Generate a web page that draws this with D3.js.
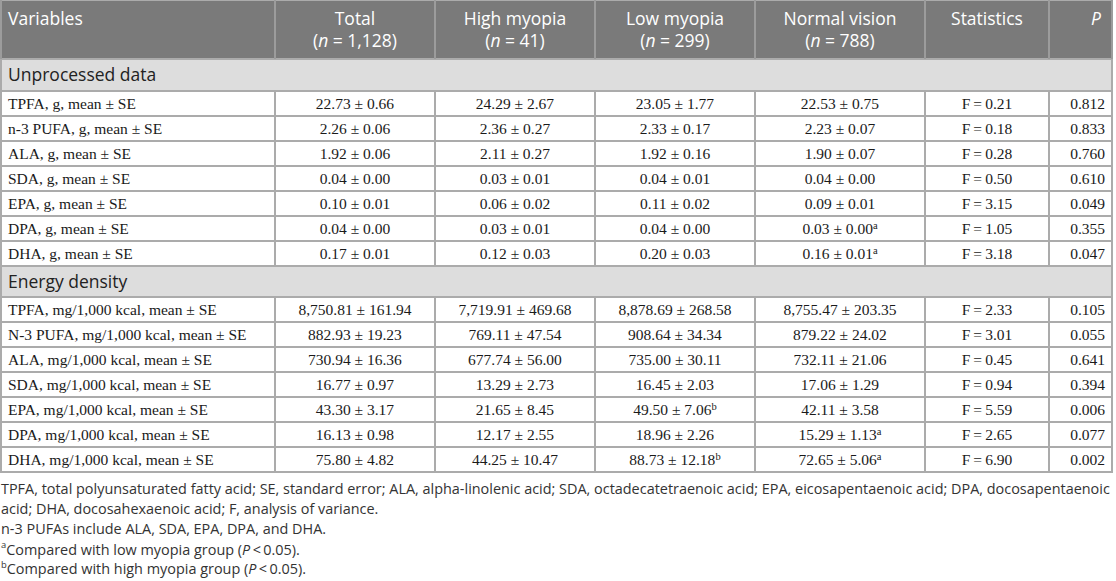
<!DOCTYPE html>
<html>
<head>
<meta charset="utf-8">
<script src="https://cdn.jsdelivr.net/npm/d3@7"></script>
<style>
  body { margin: 0; background: #fff; }
  svg { display: block; }
</style>
</head>
<body>
<div id="tbl"></div>
<script>
// column headers and group sizes
var headers = ["Variables", "Total", "High myopia", "Low myopia", "Normal vision", "Statistics", "P"];
var groupN = ["1,128", "41", "299", "788"];
var sectionNames = ["Unprocessed data", "Energy density"];

// unprocessed data, [mean, SE]
var rawVars = ["TPFA, g, mean ± SE", "n-3 PUFA, g, mean ± SE", "ALA, g, mean ± SE", "SDA, g, mean ± SE",
               "EPA, g, mean ± SE", "DPA, g, mean ± SE", "DHA, g, mean ± SE"];
var rawTotal  = [[22.73, 0.66], [2.26, 0.06], [1.92, 0.06], [0.04, 0.00], [0.10, 0.01], [0.04, 0.00], [0.17, 0.01]];
var rawHigh   = [[24.29, 2.67], [2.36, 0.27], [2.11, 0.27], [0.03, 0.01], [0.06, 0.02], [0.03, 0.01], [0.12, 0.03]];
var rawLow    = [[23.05, 1.77], [2.33, 0.17], [1.92, 0.16], [0.04, 0.01], [0.11, 0.02], [0.04, 0.00], [0.20, 0.03]];
var rawNormal = [[22.53, 0.75], [2.23, 0.07], [1.90, 0.07], [0.04, 0.00], [0.09, 0.01], [0.03, 0.00], [0.16, 0.01]];
var rawLowMark    = ["", "", "", "", "", "", ""];
var rawNormalMark = ["", "", "", "", "", "a", "a"];
var rawF = [0.21, 0.18, 0.28, 0.50, 3.15, 1.05, 3.18];
var rawP = [0.812, 0.833, 0.760, 0.610, 0.049, 0.355, 0.047];

// energy density, [mean, SE]
var enVars = ["TPFA, mg/1,000 kcal, mean ± SE", "N-3 PUFA, mg/1,000 kcal, mean ± SE", "ALA, mg/1,000 kcal, mean ± SE",
              "SDA, mg/1,000 kcal, mean ± SE", "EPA, mg/1,000 kcal, mean ± SE", "DPA, mg/1,000 kcal, mean ± SE",
              "DHA, mg/1,000 kcal, mean ± SE"];
var enTotal  = [[8750.81, 161.94], [882.93, 19.23], [730.94, 16.36], [16.77, 0.97], [43.30, 3.17], [16.13, 0.98], [75.80, 4.82]];
var enHigh   = [[7719.91, 469.68], [769.11, 47.54], [677.74, 56.00], [13.29, 2.73], [21.65, 8.45], [12.17, 2.55], [44.25, 10.47]];
var enLow    = [[8878.69, 268.58], [908.64, 34.34], [735.00, 30.11], [16.45, 2.03], [49.50, 7.06], [18.96, 2.26], [88.73, 12.18]];
var enNormal = [[8755.47, 203.35], [879.22, 24.02], [732.11, 21.06], [17.06, 1.29], [42.11, 3.58], [15.29, 1.13], [72.65, 5.06]];
var enLowMark    = ["", "", "", "", "b", "", "b"];
var enNormalMark = ["", "", "", "", "", "a", "a"];
var enF = [2.33, 3.01, 0.45, 0.94, 5.59, 2.65, 6.90];
var enP = [0.105, 0.055, 0.641, 0.394, 0.006, 0.077, 0.002];

var notes = [
  "TPFA, total polyunsaturated fatty acid; SE, standard error; ALA, alpha-linolenic acid; SDA, octadecatetraenoic acid; EPA, eicosapentaenoic acid; DPA, docosapentaenoic",
  "acid; DHA, docosahexaenoic acid; F, analysis of variance.",
  "n-3 PUFAs include ALA, SDA, EPA, DPA, and DHA."
];

var W = 1116, H = 581;
var colW = [275, 160, 160, 160, 170, 124, 64];
var tableW = d3.sum(colW);
var edges = Array.from(d3.cumsum([0].concat(colW)));
var colX = d3.scaleOrdinal().domain(headers).range(edges.slice(0, 7));
var colR = d3.scaleOrdinal().domain(headers).range(edges.slice(1));

var fmt = d3.format(",.2f"), fmtP = d3.format(".3f");
var sans = "'Open Sans', 'Noto Sans', sans-serif";
var serif = "'Liberation Serif', 'Times New Roman', serif";
var lineCol = "#ababab";

// build row list
var rows = [{type: "head", h: 59}];
function addSection(name, vars, t, hi, lo, no, loM, noM, F, P, h) {
  rows.push({type: "section", name: name, h: h});
  vars.forEach(function(v, i) {
    rows.push({type: "data", h: 25, cells: [
      {t: v},
      {t: fmt(t[i][0]) + " ± " + fmt(t[i][1]), m: ""},
      {t: fmt(hi[i][0]) + " ± " + fmt(hi[i][1]), m: ""},
      {t: fmt(lo[i][0]) + " ± " + fmt(lo[i][1]), m: loM[i]},
      {t: fmt(no[i][0]) + " ± " + fmt(no[i][1]), m: noM[i]},
      {t: "F\u2009=\u2009" + fmt(F[i])},
      {t: fmtP(P[i])}
    ]});
  });
}
addSection(sectionNames[0], rawVars, rawTotal, rawHigh, rawLow, rawNormal, rawLowMark, rawNormalMark, rawF, rawP, 32);
addSection(sectionNames[1], enVars, enTotal, enHigh, enLow, enNormal, enLowMark, enNormalMark, enF, enP, 31);

var rowTops = Array.from(d3.cumsum([0].concat(rows.map(function(r){ return r.h; }))));
rows.forEach(function(r, i){ r.y = rowTops[i]; });

var svg = d3.select("#tbl").append("svg")
  .attr("width", W).attr("height", H)
  .attr("viewBox", "0 0 " + W + " " + H);

// backgrounds
svg.selectAll("rect.bg")
  .data(rows)
  .enter().append("rect")
  .attr("class", "bg")
  .attr("x", 0).attr("y", function(d){ return d.y; })
  .attr("width", tableW).attr("height", function(d){ return d.h; })
  .style("fill", function(d){ return d.type == "head" ? "#7a7a7a" : d.type == "section" ? "#dddddd" : "#ffffff"; });

// horizontal rules
svg.selectAll("line.h")
  .data(rowTops)
  .enter().append("line")
  .attr("x1", 0).attr("x2", tableW)
  .attr("y1", function(d){ return d; }).attr("y2", function(d){ return d; })
  .style("stroke", lineCol).style("stroke-width", 2);

// vertical rules per row
rows.forEach(function(r) {
  var xs = r.type == "section" ? [0, tableW] : edges;
  svg.selectAll(null)
    .data(xs)
    .enter().append("line")
    .attr("x1", function(d){ return Math.min(Math.max(d, 1), tableW - 1); })
    .attr("x2", function(d){ return Math.min(Math.max(d, 1), tableW - 1); })
    .attr("y1", r.y).attr("y2", r.y + r.h)
    .style("stroke", r.type == "head" ? "#9c9c9c" : lineCol)
    .style("stroke-width", 2);
});

// header text
var head = svg.append("g").style("font-family", sans).style("font-size", "17.5px").style("fill", "#ffffff");
head.append("text").attr("x", 8).attr("y", 19).attr("dy", "0.35em").text(headers[0]);
headers.slice(1, 5).forEach(function(h, i) {
  var cx = (colX(h) + colR(h)) / 2;
  head.append("text").attr("x", cx).attr("y", 19).attr("dy", "0.35em")
    .attr("text-anchor", "middle").text(h);
  var t = head.append("text").attr("x", cx).attr("y", 41).attr("dy", "0.35em").attr("text-anchor", "middle");
  t.append("tspan").text("(");
  t.append("tspan").style("font-style", "italic").text("n");
  t.append("tspan").text(" = " + groupN[i] + ")");
});
head.append("text").attr("x", (colX("Statistics") + colR("Statistics")) / 2).attr("y", 19).attr("dy", "0.35em")
  .attr("text-anchor", "middle").text(headers[5]);
head.append("text").attr("x", colR("P") - 12).attr("y", 19).attr("dy", "0.35em")
  .attr("text-anchor", "end").style("font-style", "italic").text(headers[6]);

// section labels
svg.selectAll("text.sec")
  .data(rows.filter(function(r){ return r.type == "section"; }))
  .enter().append("text")
  .attr("class", "sec")
  .attr("x", 8).attr("y", function(d){ return d.y + d.h / 2; }).attr("dy", "0.35em")
  .style("font-family", sans).style("font-size", "17.5px").style("fill", "#222")
  .text(function(d){ return d.name; });

// data cells
var dataRows = svg.selectAll("g.row")
  .data(rows.filter(function(r){ return r.type == "data"; }))
  .enter().append("g")
  .attr("class", "row")
  .attr("transform", function(d){ return "translate(0," + (d.y + d.h / 2) + ")"; })
  .style("font-family", serif).style("font-size", "15.5px").style("fill", "#1a1a1a");

dataRows.each(function(r) {
  var g = d3.select(this);
  r.cells.forEach(function(c, j) {
    var h = headers[j];
    var t = g.append("text").attr("dy", "0.35em");
    if (j == 0) {
      t.attr("x", colX(h) + 8).text(c.t);
    } else if (j == 6) {
      t.attr("x", colR(h) - 8).attr("text-anchor", "end").text(c.t);
    } else {
      t.attr("x", (colX(h) + colR(h)) / 2).attr("text-anchor", "middle");
      t.append("tspan").text(c.t);
      if (c.m) t.append("tspan").attr("dy", "-0.45em").style("font-size", "10.5px").text(c.m);
    }
  });
});

// footnotes
var foot = svg.append("g").style("font-family", sans).style("fill", "#333");
var probe = foot.append("text").style("font-size", "14px").text(notes[0]);
var fs = 14 * 1110 / probe.node().getComputedTextLength();
probe.remove();
foot.style("font-size", fs + "px");
var noteY = [489, 509, 529, 549, 568.5];
notes.forEach(function(n, i) {
  foot.append("text").attr("x", 1).attr("y", noteY[i]).attr("dy", "0.35em").text(n);
});
[["a", "low"], ["b", "high"]].forEach(function(p, i) {
  var t = foot.append("text").attr("x", 1).attr("y", noteY[3 + i]).attr("dy", "0.35em");
  t.append("tspan").style("font-size", (fs * 0.65) + "px").attr("dy", "-0.1em").text(p[0]);
  t.append("tspan").attr("dy", "0.45em").text("Compared with " + p[1] + " myopia group (");
  t.append("tspan").style("font-style", "italic").text("P");
  t.append("tspan").text("\u2009<\u20090.05).");
});
</script>
</body>
</html>
